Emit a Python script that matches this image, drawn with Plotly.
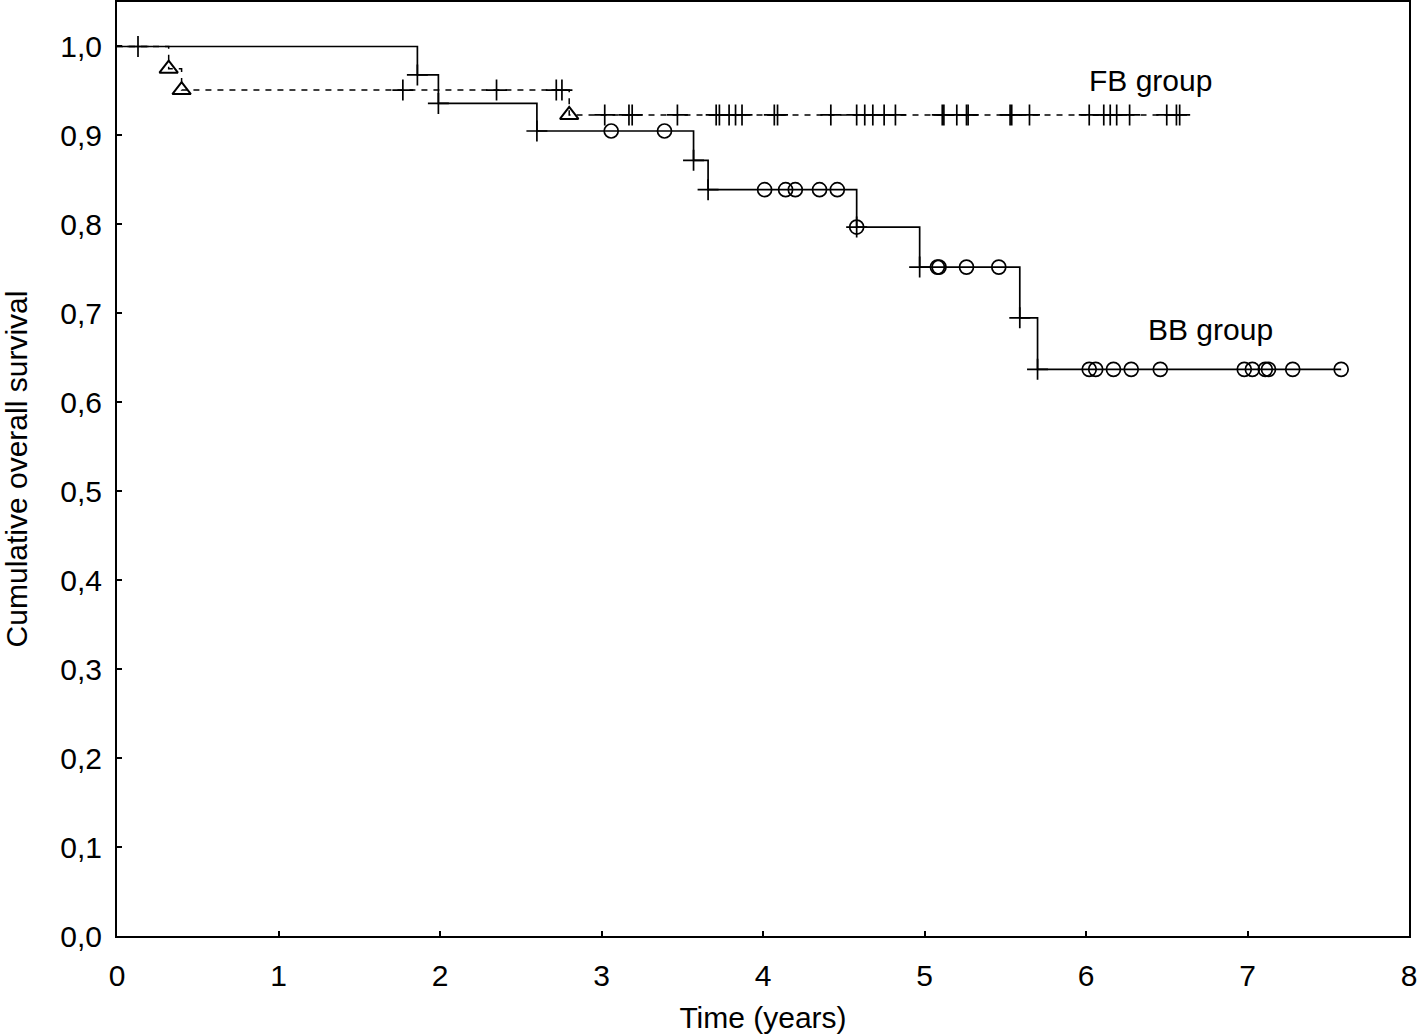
import plotly.graph_objects as go

# ---------------- data ----------------
# FB group (dashed): step curve
fb_time = [0.0, 0.32, 0.40, 2.80, 6.59]
fb_surv = [1.0, 0.975, 0.951, 0.923, 0.923]
# FB events (triangles)
fb_event_time = [0.32, 0.40, 2.80]
fb_event_surv = [0.975, 0.951, 0.923]
# FB censored (+)
fb_cens_time = [1.77, 2.35, 2.72, 2.755,
                3.02, 3.17, 3.19, 3.47, 3.71, 3.73, 3.79, 3.83, 3.87, 4.07, 4.09,
                4.42, 4.58, 4.63, 4.68, 4.75, 4.82, 5.11, 5.12, 5.20, 5.26, 5.27,
                5.53, 5.54, 5.65, 6.02, 6.11, 6.15, 6.19, 6.27, 6.50, 6.56, 6.58]
fb_cens_surv = [0.951] * 4 + [0.923] * 33

# BB group (solid): step curve
bb_time = [0.0, 1.86, 1.99, 2.60, 3.57, 3.66, 4.58, 4.97, 5.59, 5.70, 7.58]
bb_surv = [1.0, 0.968, 0.936, 0.905, 0.872, 0.839, 0.797, 0.752, 0.695, 0.637, 0.637]
# BB events (+)
bb_event_time = [0.13, 1.86, 1.99, 2.60, 3.57, 3.66, 4.58, 4.97, 5.59, 5.70]
bb_event_surv = [1.0, 0.968, 0.936, 0.905, 0.872, 0.839, 0.797, 0.752, 0.695, 0.637]
# BB censored (o)
bb_cens_time = [3.06, 3.39,
                4.01, 4.14, 4.20, 4.35, 4.46,
                4.58,
                5.08, 5.09, 5.26, 5.46,
                6.02, 6.06, 6.17, 6.28, 6.46, 6.98, 7.03, 7.11, 7.13, 7.28, 7.58]
bb_cens_surv = [0.905] * 2 + [0.839] * 5 + [0.797] + [0.752] * 4 + [0.637] * 11

x_ticks = [0, 1, 2, 3, 4, 5, 6, 7, 8]
y_ticks = [0.0, 0.1, 0.2, 0.3, 0.4, 0.5, 0.6, 0.7, 0.8, 0.9, 1.0]
y_ticktext = ["0,0", "0,1", "0,2", "0,3", "0,4", "0,5", "0,6", "0,7", "0,8", "0,9", "1,0"]

labels = [("FB group", 6.40, 0.962), ("BB group", 6.77, 0.682)]

FONT = "Liberation Sans, Arial, sans-serif"
BLACK = "#000000"
FS = 30

fig = go.Figure()

fig.add_trace(go.Scatter(x=fb_time, y=fb_surv, mode="lines", line_shape="hv",
                         line=dict(color=BLACK, width=1.5, dash="6px,6px"),
                         hoverinfo="skip", showlegend=False))
fig.add_trace(go.Scatter(x=fb_cens_time, y=fb_cens_surv, mode="markers",
                         marker=dict(symbol="cross-thin-open", size=15, color=BLACK,
                                     line=dict(color=BLACK, width=1.7)),
                         showlegend=False))
fig.add_trace(go.Scatter(x=fb_event_time, y=fb_event_surv, mode="markers",
                         marker=dict(symbol="triangle-up-open", size=16, color=BLACK,
                                     line=dict(color=BLACK, width=2)),
                         showlegend=False))

fig.add_trace(go.Scatter(x=bb_time, y=bb_surv, mode="lines", line_shape="hv",
                         line=dict(color=BLACK, width=1.7),
                         hoverinfo="skip", showlegend=False))
fig.add_trace(go.Scatter(x=bb_event_time, y=bb_event_surv, mode="markers",
                         marker=dict(symbol="cross-thin-open", size=15, color=BLACK,
                                     line=dict(color=BLACK, width=1.7)),
                         showlegend=False))
fig.add_trace(go.Scatter(x=bb_cens_time, y=bb_cens_surv, mode="markers",
                         marker=dict(symbol="circle-open", size=14, color=BLACK,
                                     line=dict(color=BLACK, width=1.7)),
                         showlegend=False))

for text, x, y in labels:
    fig.add_annotation(x=x, y=y, text=text, showarrow=False,
                       font=dict(family=FONT, size=FS, color=BLACK),
                       xanchor="center", yanchor="middle")

fig.update_layout(
    width=1418, height=1036,
    margin=dict(l=117, r=9, t=2, b=100),
    paper_bgcolor="white", plot_bgcolor="white",
    font=dict(family=FONT, size=FS, color=BLACK),
    xaxis=dict(range=[0, 8], tickvals=x_ticks, ticks="inside", ticklen=5,
               tickwidth=1.5, tickcolor=BLACK, showline=True, linewidth=2,
               linecolor=BLACK, mirror=True, showgrid=False, zeroline=False,
               automargin=False, ticklabelstandoff=12,
               tickfont=dict(size=FS),
               title=dict(text="Time (years)", font=dict(size=FS), standoff=16)),
    yaxis=dict(range=[0, 1.05], tickvals=y_ticks, ticktext=y_ticktext,
               ticks="inside", ticklen=5, tickwidth=1.5, tickcolor=BLACK,
               showline=True, linewidth=2, linecolor=BLACK, mirror=True,
               showgrid=False, zeroline=False, automargin=False,
               ticklabelstandoff=7, tickfont=dict(size=FS),
               title=dict(text="Cumulative overall survival", font=dict(size=FS),
                          standoff=28)),
)

fig.write_html("out.html", config={"displayModeBar": False},
               post_script="document.body.style.margin='0';")
